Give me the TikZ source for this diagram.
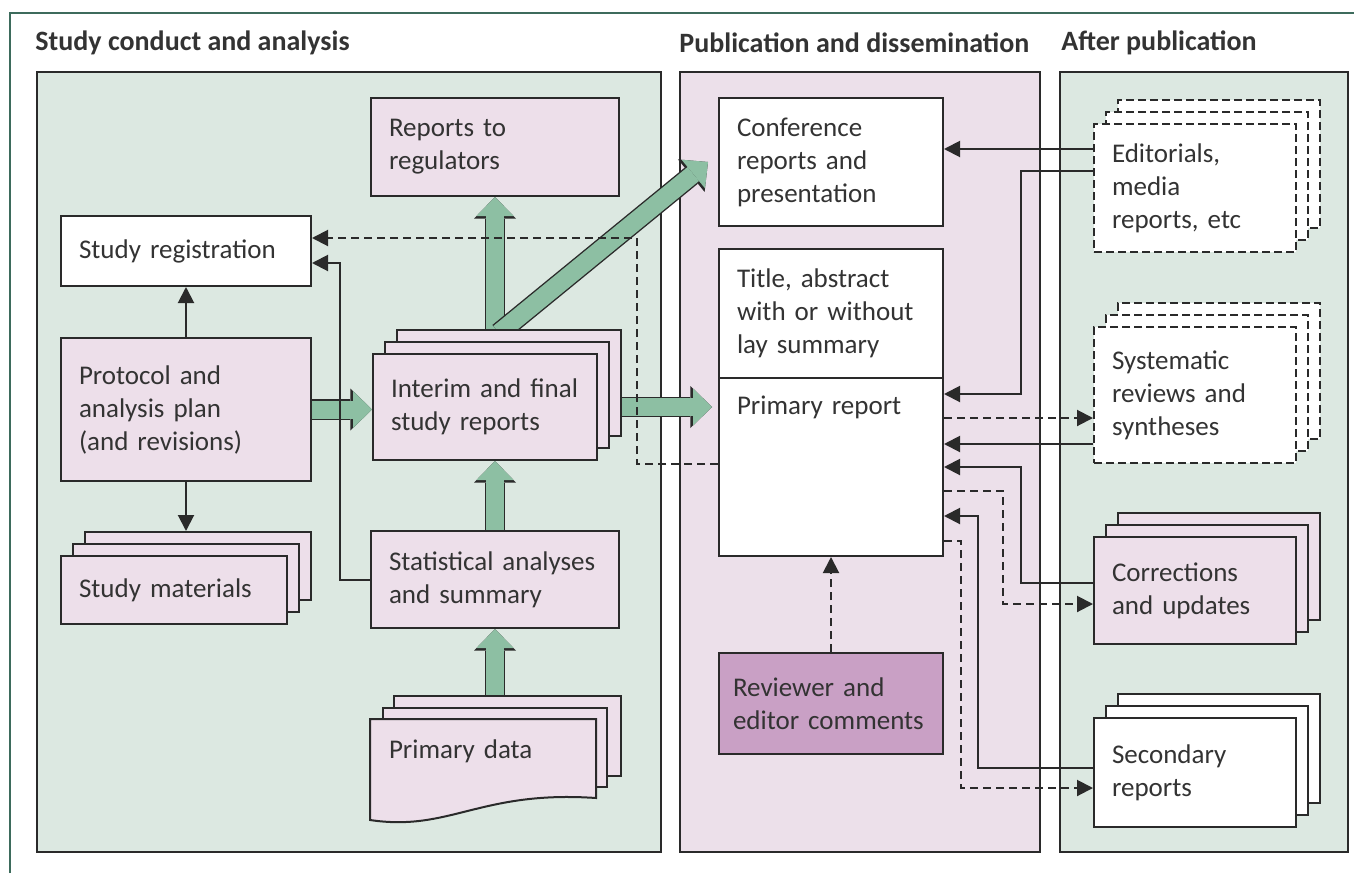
\documentclass[tikz,border=0pt]{standalone}
\usepackage{fontspec}
\setmainfont{Carlito}
\usepackage{tikz}
\usetikzlibrary{positioning, calc, shadows, arrows.meta}

\definecolor{linec}{HTML}{2A2A2A}
\definecolor{textc}{HTML}{333333}
\definecolor{framegreen}{HTML}{3D6B5C}
\definecolor{panelgreen}{HTML}{DCE8E1}
\definecolor{panelpink}{HTML}{ECE0EA}
\definecolor{boxpink}{HTML}{EDDFEA}
\definecolor{revpink}{HTML}{C9A0C5}
\definecolor{arrowgreen}{HTML}{8DBFA3}

\pgfdeclarelayer{back}
\pgfdeclarelayer{arrows}
\pgfsetlayers{back,arrows,main}

\begin{document}
\begin{tikzpicture}[x=0.5pt, y=-0.5pt,
  box/.style={draw=linec, line width=1pt, anchor=north west, align=left,
    inner xsep=9pt, inner ysep=0pt, text=textc,
    font=\fontsize{13.5pt}{16.5pt}\selectfont},
  pinkbox/.style={box, fill=boxpink},
  whitebox/.style={box, fill=white},
  stack/.style={double copy shadow={shadow xshift=6pt, shadow yshift=6pt}},
  dstack/.style={dash pattern=on 4pt off 2pt,
    double copy shadow={shadow xshift=6pt, shadow yshift=6pt, dash pattern=on 4pt off 2pt}},
  conn/.style={draw=linec, line width=1pt, -{Triangle[length=8pt, width=8pt]}},
  dconn/.style={conn, dash pattern=on 4pt off 2.5pt},
  bigarrow/.style={draw=arrowgreen, line width=9pt,
    -{Triangle[length=9.5pt, width=18.5pt, line width=0pt 0]},
    preaction={draw=linec, line width=10.4pt,
      -{Triangle[length=10.8pt, width=21pt, line width=0pt 0]}}},
  heading/.style={anchor=west, inner sep=0pt, text=textc,
    font=\fontsize{14pt}{16pt}\selectfont\bfseries}
]
  \useasboundingbox (0,0) rectangle (1354,873);

  % Panels
  \begin{pgfonlayer}{back}
    \fill[white] (0,0) rectangle (1354,873);
    \draw[framegreen, line width=1.2pt] (10,873) -- (10,13) -- (1354,13);
    \filldraw[fill=panelgreen, draw=linec, line width=1pt] (37,72) rectangle (661,852);
    \filldraw[fill=panelpink, draw=linec, line width=1pt] (680,72) rectangle (1040,852);
    \filldraw[fill=panelgreen, draw=linec, line width=1pt] (1060,72) rectangle (1348,852);
  \end{pgfonlayer}

  % Headings
  \node[heading] (h1) at (35,43) {Study conduct and analysis};
  \node[heading] (h2) at (679,43) {Publication and dissemination};
  \node[heading] (h3) at (1061,43) {After publication};

  % Study conduct and analysis
  \node[pinkbox, text width=106pt, minimum height=49pt] (regs) at (370,97) {Reports to\\regulators};
  \node[whitebox, text width=107pt, minimum height=35pt] (reg) at (60,215) {Study registration};
  \node[pinkbox, text width=107pt, minimum height=71.5pt] (proto) at (60,337) {Protocol and\\analysis plan\\(and revisions)};
  \node[pinkbox, stack, text width=95pt, minimum height=34pt] (mats) at (60,555) {Study materials};
  \node[pinkbox, stack, text width=94pt, minimum height=53pt] (interim) at (372,353) {Interim and final\\study reports};
  \node[pinkbox, text width=106pt, minimum height=48.5pt] (stats) at (370,530) {Statistical analyses\\and summary};

  % Primary data (wavy sheet)
  \filldraw[fill=boxpink, draw=linec, line width=1pt] (394,696) rectangle (621,776);
  \filldraw[fill=boxpink, draw=linec, line width=1pt] (383,708) rectangle (607,787);
  \filldraw[fill=boxpink, draw=linec, line width=1pt] (596,719) -- (370,719) -- (370,820)
    .. controls (450,832) and (480,790) .. (596,798) -- cycle;
  \node[box, draw=none, text width=95pt, text height=19pt, text depth=20pt] (pdata) at (370,719) {Primary data};

  % Publication and dissemination
  \node[whitebox, text width=94pt, minimum height=64pt] (conf) at (718,97) {Conference\\reports and\\presentation};
  \node[whitebox, text width=94pt, minimum height=64.5pt] (title) at (718,248) {Title, abstract\\with or without\\lay summary};
  \node[whitebox, text width=94pt, text height=18pt, text depth=71pt] (prim) at (718,377) {Primary report};
  \node[box, fill=revpink, inner xsep=7pt, text width=98pt, minimum height=50.5pt] (rev) at (718,652) {Reviewer and\\editor comments};

  % After publication
  \node[whitebox, dstack, text width=83pt, minimum height=64pt] (edit) at (1093,123) {Editorials,\\media\\reports, etc};
  \node[whitebox, dstack, text width=83pt, minimum height=68pt] (sys) at (1093,326) {Systematic\\reviews and\\syntheses};
  \node[pinkbox, stack, text width=83pt, minimum height=53.5pt] (corr) at (1093,536) {Corrections\\and updates};
  \node[whitebox, stack, text width=83pt, minimum height=54.5pt] (sec) at (1093,717) {Secondary\\reports};

  % Big green arrows (behind the boxes)
  \begin{pgfonlayer}{arrows}
    \draw[bigarrow] (proto.center) -- (proto.center -| interim.west);
    \draw[bigarrow] (interim.center) -- ($(interim.center -| prim.west)+(-3pt,0)$);
    \draw[bigarrow] (interim.center -| regs.south) -- (regs.south);
    \draw[bigarrow] ($(interim.north -| regs.south)+(2pt,10pt)$) -- ($(conf.west)+(-5pt,0)$);
    \draw[bigarrow] (stats.center) -- (stats.center |- interim.south);
    \draw[bigarrow] (pdata.center -| stats.south) -- (stats.south);
  \end{pgfonlayer}

  % Thin connectors, left panel
  \draw[conn] (proto.north) -- (reg.south);
  \draw[conn] (proto.south) -- ($(mats.north -| proto.south)+(0,12pt)$);
  \draw[conn] (stats.west) -- ++(-15pt,0) |- ([yshift=-6pt]reg.east);
  \draw[dconn] ([yshift=1.5pt]prim.west) -- ++(-40.5pt,0) |- ([yshift=6.5pt]reg.east);

  % Thin connectors, right panels
  \draw[conn] ([yshift=19.5pt]edit.west) -- ([yshift=6.5pt]conf.east);
  \draw[conn] ([yshift=8.5pt]edit.west) -- ++(-36pt,0) |- ([yshift=36.5pt]prim.east);
  \draw[dconn] ([yshift=24.5pt]prim.east) -- ([yshift=-11.5pt]sys.west);
  \draw[conn] ([yshift=-24.5pt]sys.west) -- ([yshift=11.5pt]prim.east);
  \draw[conn] ([yshift=3.75pt]corr.west) -- ++(-36pt,0) |- (prim.east);
  \draw[dconn] ([yshift=-12pt]prim.east) -- ++(29.5pt,0) |- ([yshift=-6.75pt]corr.west);
  \draw[conn] ([yshift=2.25pt]sec.west) -- ++(-57.5pt,0) |- ([yshift=-24.5pt]prim.east);
  \draw[dconn] ([yshift=-37pt]prim.east) -- ++(8.5pt,0) |- ([yshift=-7.75pt]sec.west);
  \draw[dconn] (rev.north) -- (prim.south);
\end{tikzpicture}
\end{document}
